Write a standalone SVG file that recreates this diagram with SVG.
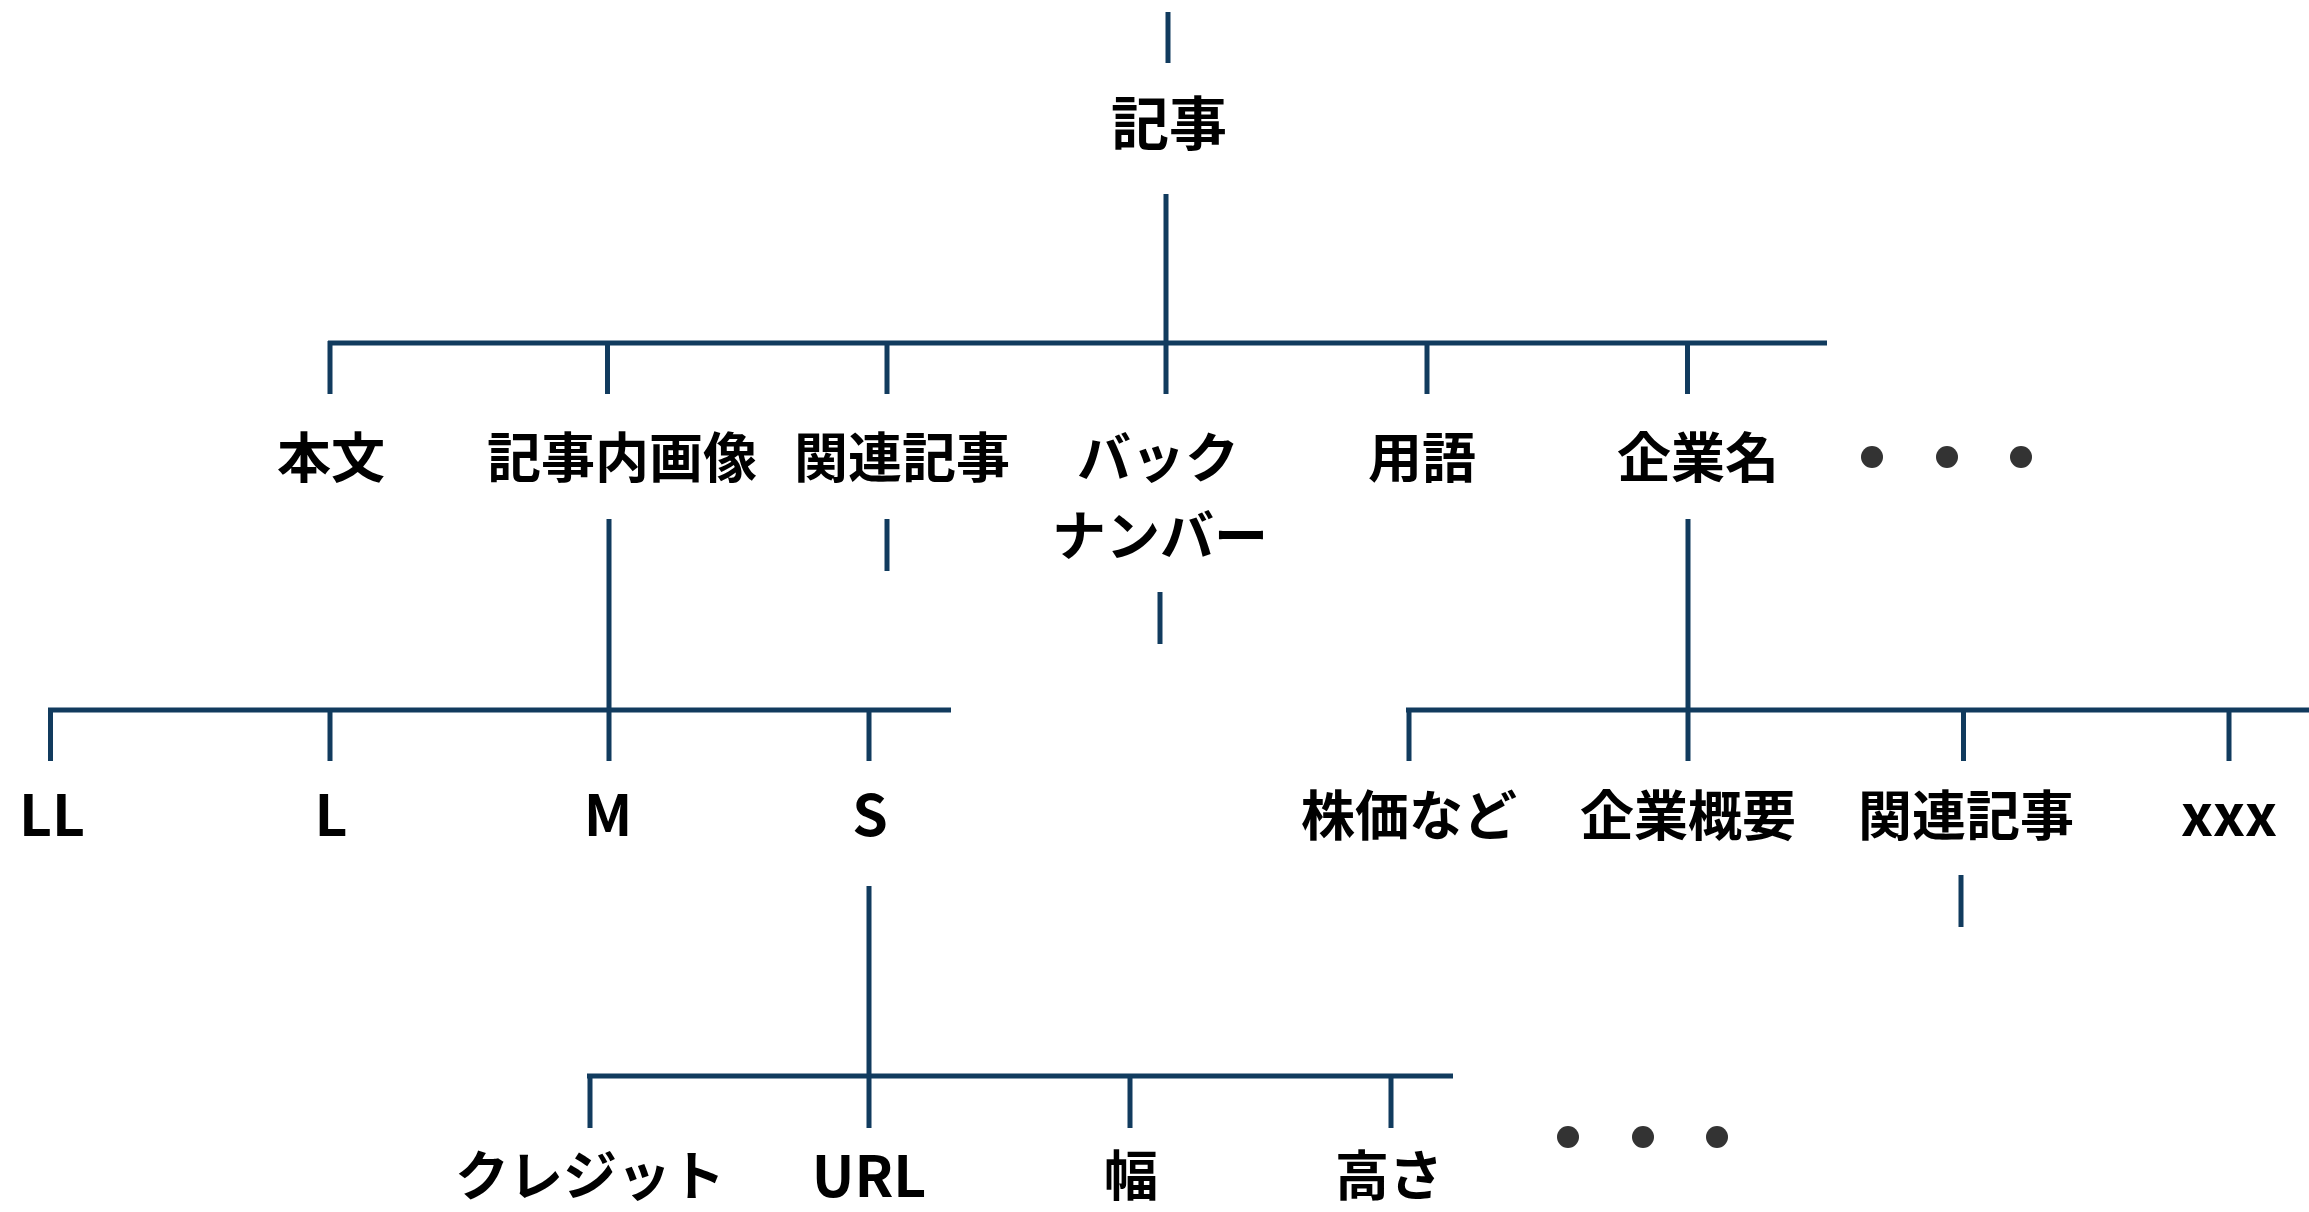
<svg xmlns="http://www.w3.org/2000/svg" width="2309" height="1212" viewBox="0 0 2309 1212">
<style>
.c{stroke:#113b5e;stroke-width:5;fill:none;stroke-linecap:butt}
.t{font-family:"Noto Sans CJK JP","Liberation Sans",sans-serif;font-weight:700;font-size:54px;fill:#000;text-anchor:middle}
.r{font-size:58px}
.l{font-size:57px}
.d{fill:#333}
</style>
<rect width="2309" height="1212" fill="#fff"/>
<g id="connectors">
<path class="c" d="M1168 12V63"/>
<path class="c" d="M1166 194V343"/>
<path class="c" d="M328 343H1827"/>
<path class="c" d="M330 341V394M607.5 343V394M887 343V394M1166 343V394M1427 343V394M1687.5 343V394"/>
<path class="c" d="M609 519V710"/>
<path class="c" d="M887 519V571"/>
<path class="c" d="M1160 592V644"/>
<path class="c" d="M1688 519V710"/>
<path class="c" d="M48 710H951"/>
<path class="c" d="M50.5 708V761M330 710V761M609 710V761M869 710V761"/>
<path class="c" d="M1406 710H2309"/>
<path class="c" d="M1409 708V761M1688 710V761M1963.5 710V761M2229 710V761"/>
<path class="c" d="M1961 875V927"/>
<path class="c" d="M869 886V1076"/>
<path class="c" d="M587 1076H1453"/>
<path class="c" d="M590 1074V1128M869 1076V1128M1130 1076V1128M1391 1076V1128"/>
</g>
<g id="n-root"><text class="t r" x="1169" y="145">記事</text></g>
<g id="n-honbun"><text class="t" x="331" y="478">本文</text></g>
<g id="n-kijinaigazo"><text class="t" x="622" y="478">記事内画像</text></g>
<g id="n-kanren1"><text class="t" x="902" y="478">関連記事</text></g>
<g id="n-backnumber"><text class="t" x="1158" y="478">バック</text><text class="t" x="1160" y="556">ナンバー</text></g>
<g id="n-yogo"><text class="t" x="1422" y="478">用語</text></g>
<g id="n-kigyomei"><text class="t" x="1698" y="478">企業名</text></g>
<g id="n-more1"><circle class="d" cx="1872" cy="457" r="11"/><circle class="d" cx="1947" cy="457" r="11"/><circle class="d" cx="2021" cy="457" r="11"/></g>
<g id="n-LL"><text class="t l" x="52" y="836">LL</text></g>
<g id="n-L"><text class="t l" x="331" y="836">L</text></g>
<g id="n-M"><text class="t l" x="608" y="836">M</text></g>
<g id="n-S"><text class="t l" x="870" y="836">S</text></g>
<g id="n-kabuka"><text class="t" x="1409" y="836">株価など</text></g>
<g id="n-gaiyo"><text class="t" x="1688" y="836">企業概要</text></g>
<g id="n-kanren2"><text class="t" x="1966" y="836">関連記事</text></g>
<g id="n-xxx"><text class="t l" x="2229" y="836">xxx</text></g>
<g id="n-credit"><text class="t" x="590" y="1196">クレジット</text></g>
<g id="n-url"><text class="t l" x="869" y="1197">URL</text></g>
<g id="n-haba"><text class="t" x="1131" y="1196">幅</text></g>
<g id="n-takasa"><text class="t" x="1389" y="1196">高さ</text></g>
<g id="n-more2"><circle class="d" cx="1568" cy="1137" r="11"/><circle class="d" cx="1643" cy="1137" r="11"/><circle class="d" cx="1717" cy="1137" r="11"/></g>
</svg>
